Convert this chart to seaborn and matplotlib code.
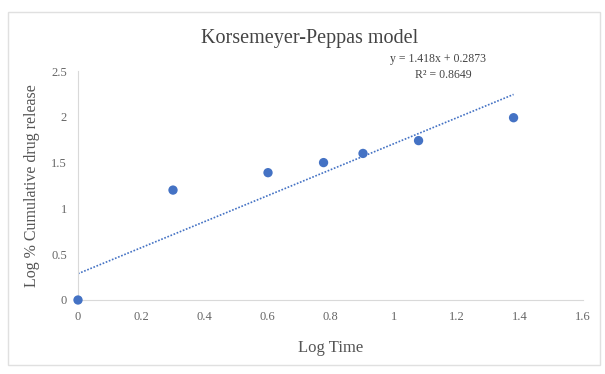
import numpy as np
import pandas as pd
import matplotlib
matplotlib.use("Agg")
import matplotlib.pyplot as plt
import seaborn as sns

# Data
log_time = [0.0, 0.301, 0.602, 0.778, 0.903, 1.079, 1.380]
log_release = [0.0, 1.20, 1.39, 1.50, 1.60, 1.74, 1.99]
slope = 1.418
intercept = 0.2873
r2 = 0.8649
xticks = [0, 0.2, 0.4, 0.6, 0.8, 1, 1.2, 1.4, 1.6]
yticks = [0, 0.5, 1, 1.5, 2, 2.5]

sns.set_style("white")
plt.rcParams['font.family'] = ['Liberation Serif', 'DejaVu Serif']

fig = plt.figure(figsize=(6.05, 3.74), dpi=100)
W, H = 605, 374
ax = fig.add_axes([78 / W, 1 - 300 / H, (583 - 78) / W, (300 - 71) / H])

df = pd.DataFrame({"x": log_time, "y": log_release})
blue = "#4472C4"

# Trend line
xt = np.array([0.0, max(log_time)])
ax.plot(xt, slope * xt + intercept, linestyle=(0, (1, 1)), color=blue, lw=1.2, zorder=2)

sns.scatterplot(data=df, x="x", y="y", ax=ax, color=blue, s=45, edgecolor="none", zorder=3, clip_on=False)

ax.set_xlim(0, 1.6)
ax.set_ylim(0, 2.5)
ax.set_xticks(xticks)
ax.set_xticklabels([f"{t:g}" for t in xticks])
ax.set_yticks(yticks)
ax.set_yticklabels([f"{t:g}" for t in yticks])
ax.tick_params(axis="both", length=0, labelsize=9, colors="#666666", pad=8)
for s in ["top", "right"]:
    ax.spines[s].set_visible(False)
ax.spines["left"].set_color("#d9d9d9")
ax.spines["bottom"].set_color("#d9d9d9")
ax.set_xlabel("Log Time", fontsize=12, color="#555555", labelpad=12)
ax.set_ylabel("Log % Cumulative drug release", fontsize=11.5, color="#555555", labelpad=8)

fig.text(310 / W, 1 - 38 / H, "Korsemeyer-Peppas model", ha="center", va="center",
         fontsize=14.5, color="#444444")
fig.text(438 / W, 1 - 59 / H, f"y = {slope}x + {intercept}", ha="center", va="center",
         fontsize=8.5, color="#444444")
fig.text(443 / W, 1 - 75 / H, f"R² = {r2}", ha="center", va="center",
         fontsize=8.5, color="#444444")

# Chart border
border = plt.Rectangle((8 / W, 1 - 365 / H), (600 - 8) / W, (365 - 12) / H,
                       transform=fig.transFigure, fill=False, edgecolor="#e0e0e0", lw=1)
fig.add_artist(border)

fig.savefig("out.png", dpi=100, facecolor="white")
